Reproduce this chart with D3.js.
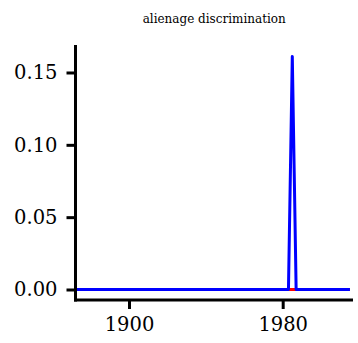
<!DOCTYPE html>
<html>
<head>
<meta charset="utf-8">
<script src="https://cdn.jsdelivr.net/npm/d3@7"></script>
<style>
  html, body { margin: 0; padding: 0; background: #fff; }
  svg { display: block; }
</style>
</head>
<body>
<svg id="chart" width="358" height="343"></svg>
<script>
// ---- data ----
const title = "alienage discrimination";
const blueYears  = [1872, 1983, 1984, 1985, 1986, 1987, 2015];
const blueValues = [0,    0,    0.080, 0.161, 0.081, 0,  0];
const redYears   = [1872, 2015];
const redValues  = [0,    0];
const xTickValues = [1900, 1980];
const yTickValues = [0, 0.05, 0.10, 0.15];
const yTickLabels = ["0.00", "0.05", "0.10", "0.15"];

// ---- layout ----
const svg = d3.select("#chart");
const mLeft = 75.5, mRight = 353, mTop = 45, mBottom = 300;
const x = d3.scaleLinear().domain([1872.15, 2016.6]).range([mLeft, mRight]);
const y = d3.scaleLinear().domain([-0.00726, 0.169]).range([mBottom, mTop]);

const line = d3.line().x(d => x(d[0])).y(d => y(d[1]));

svg.append("path")
  .datum(redYears.map((yr, i) => [yr, redValues[i]]))
  .attr("d", line).attr("fill", "none")
  .attr("stroke", "#ff0000").attr("stroke-width", 3);

svg.append("path")
  .datum(blueYears.map((yr, i) => [yr, blueValues[i]]))
  .attr("d", line).attr("fill", "none")
  .attr("stroke", "#0000ff").attr("stroke-width", 3)
  .attr("stroke-linejoin", "round");

const font = "DejaVu Serif";

// x axis
const xAxis = svg.append("g").attr("transform", `translate(0,${mBottom})`)
  .call(d3.axisBottom(x).tickValues(xTickValues).tickFormat(d3.format("d")).tickSize(9).tickPadding(8));
// y axis
const yAxis = svg.append("g").attr("transform", `translate(${mLeft},0)`)
  .call(d3.axisLeft(y).tickValues(yTickValues).tickFormat((d, i) => yTickLabels[i]).tickSize(9).tickPadding(9));

[xAxis, yAxis].forEach(g => {
  g.select(".domain").remove();
  g.selectAll(".tick line").attr("stroke", "#000").attr("stroke-width", 3);
  g.selectAll(".tick text").attr("fill", "#000")
    .style("font-family", font).style("font-size", "19.5px");
});

// axis lines
svg.append("line").attr("x1", mLeft).attr("x2", mLeft).attr("y1", mTop).attr("y2", mBottom + 1.5)
  .attr("stroke", "#000").attr("stroke-width", 3);
svg.append("line").attr("x1", mLeft - 1.5).attr("x2", mRight).attr("y1", mBottom).attr("y2", mBottom)
  .attr("stroke", "#000").attr("stroke-width", 3);

// title
svg.append("text").attr("x", (mLeft + mRight) / 2).attr("y", 23)
  .attr("text-anchor", "middle")
  .style("font-family", font).style("font-size", "12px").attr("fill", "#000")
  .text(title);
</script>
</body>
</html>
